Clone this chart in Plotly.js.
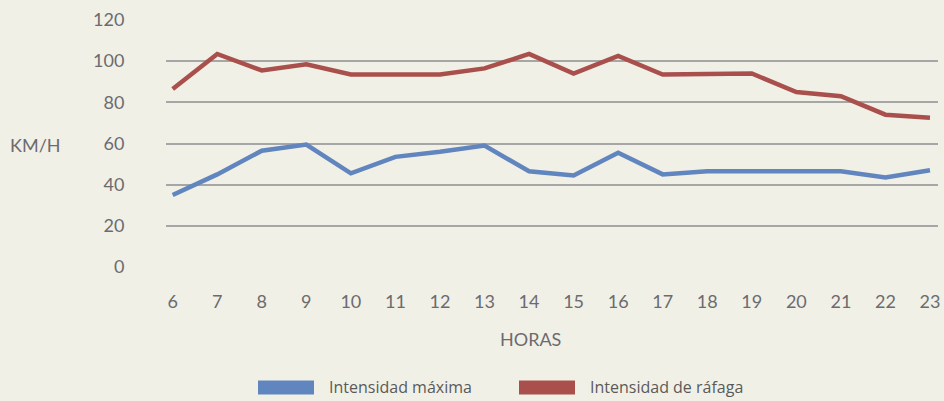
<!DOCTYPE html>
<html>
<head>
<meta charset="utf-8">
<script src="https://cdn.plot.ly/plotly-3.0.1.min.js"></script>
<style>
  html, body { margin: 0; padding: 0; background: #f1f0e6; }
  #chart { width: 944px; height: 401px; }
</style>
</head>
<body>
<div id="chart"></div>
<script>
// Data
const hours = [6, 7, 8, 9, 10, 11, 12, 13, 14, 15, 16, 17, 18, 19, 20, 21, 22, 23];
const hourLabels = ["6","7","8","9","10","11","12","13","14","15","16","17","18","19","20","21","22","23"];
const maxIntensity = [35, 45, 56.5, 59.5, 45.5, 53.5, 56, 59, 46.5, 44.5, 55.5, 45, 46.5, 46.5, 46.5, 46.5, 43.5, 47];
const gustIntensity = [86.5, 103.5, 95.5, 98.5, 93.5, 93.5, 93.5, 96.5, 103.5, 94, 102.5, 93.5, 94, 94, 85, 83, 74, 72.5];
const yTicks = [0, 20, 40, 60, 80, 100, 120];
const seriesNames = ["Intensidad máxima", "Intensidad de ráfaga"];
const seriesColors = ["#6185be", "#a9504d"];
const yTitle = "KM/H";
const xTitle = "HORAS";

// Layout geometry (pixels)
const W = 944, H = 401;
const mL = 166, mR = 6, mT = 20, mB = 134.3;
const plotW = W - mL - mR, plotH = H - mT - mB;
const px = x => (x - mL) / plotW;
const py = y => (H - mB - y) / plotH;

const traces = [
  { x: hours, y: maxIntensity, name: seriesNames[0], type: "scatter", mode: "lines",
    line: { color: seriesColors[0], width: 4.5 }, showlegend: false, hoverinfo: "skip" },
  { x: hours, y: gustIntensity, name: seriesNames[1], type: "scatter", mode: "lines",
    line: { color: seriesColors[1], width: 4.5 }, showlegend: false, hoverinfo: "skip" }
];

// Custom legend geometry
const legendSwatchX = [258, 519];
const legendTextX = [327, 588];
const legendY = 387;

const shapes = seriesNames.map((n, i) => ({
  type: "rect", xref: "paper", yref: "paper",
  x0: px(legendSwatchX[i]), x1: px(legendSwatchX[i] + 56),
  y0: py(legendY - 7), y1: py(legendY + 7),
  fillcolor: seriesColors[i], line: { width: 0 }
}));

const annotations = [
  { text: yTitle, xref: "paper", yref: "paper", x: px(35), y: py(145),
    showarrow: false, xanchor: "center", yanchor: "middle",
    font: { family: "Lato, 'Open Sans', sans-serif", size: 18, color: "#6b6b70" } },
  { text: xTitle, xref: "paper", yref: "paper", x: px(530.5), y: py(339),
    showarrow: false, xanchor: "center", yanchor: "middle",
    font: { family: "Lato, 'Open Sans', sans-serif", size: 18, color: "#6b6b70" } }
].concat(seriesNames.map((n, i) => ({
  text: n, xref: "paper", yref: "paper", x: px(legendTextX[i]), y: py(legendY),
  showarrow: false, xanchor: "left", yanchor: "middle",
  font: { family: "'Open Sans', 'Noto Sans', sans-serif", size: 16, color: "#5a5a5a" }
})));

const layout = {
  width: W, height: H,
  margin: { l: mL, r: mR, t: mT, b: mB, pad: 0 },
  paper_bgcolor: "#f1f0e6",
  plot_bgcolor: "#f1f0e6",
  showlegend: false,
  xaxis: {
    type: "linear",
    range: [5.85, 23.18],
    tickvals: hours, ticktext: hourLabels,
    showgrid: false, zeroline: false, showline: false,
    ticks: "outside", ticklen: 18, tickcolor: "rgba(0,0,0,0)",
    tickfont: { family: "Lato, 'Open Sans', sans-serif", size: 18, color: "#6b6b70" },
    fixedrange: true
  },
  yaxis: {
    range: [0, 120],
    tickvals: yTicks, ticktext: yTicks.map(String),
    showgrid: true, gridcolor: "#a6a6a6", gridwidth: 2,
    zeroline: false, showline: false,
    ticks: "outside", ticklen: 37, tickcolor: "rgba(0,0,0,0)",
    tickfont: { family: "Lato, 'Open Sans', sans-serif", size: 18, color: "#6b6b70" },
    fixedrange: true
  },
  shapes: shapes,
  annotations: annotations
};

Plotly.newPlot("chart", traces, layout, { staticPlot: true, displayModeBar: false });
</script>
</body>
</html>
